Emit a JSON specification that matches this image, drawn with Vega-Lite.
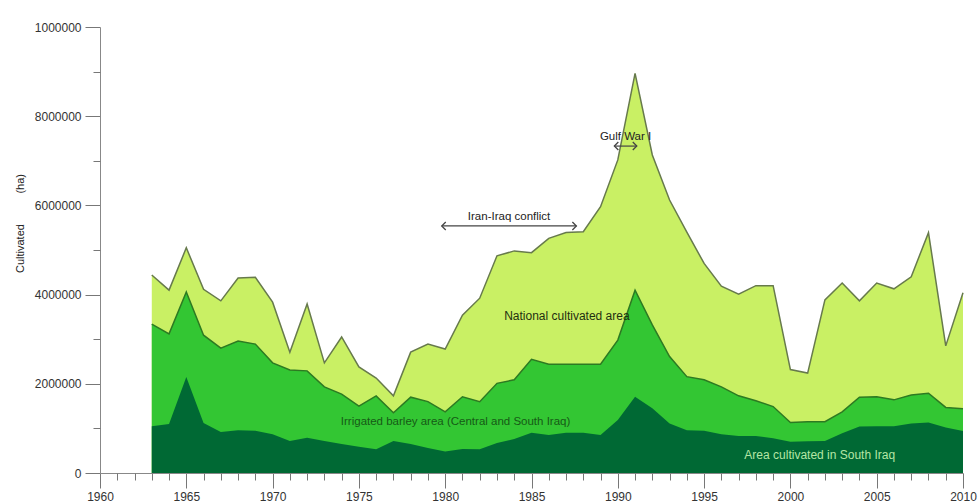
{
  "$schema": "https://vega.github.io/schema/vega-lite/v6.json",
  "autosize": "none",
  "width": 863,
  "height": 446,
  "padding": {"left": 100, "top": 27, "right": 15, "bottom": 31},
  "background": "white",
  "config": {
    "view": {"stroke": null},
    "font": "Liberation Sans",
    "axis": {"grid": false, "domainColor": "#888", "tickColor": "#777", "labelColor": "#333", "labelFont": "Liberation Sans", "labelFontSize": 12, "titleFont": "Liberation Sans"}
  },
  "resolve": {"axis": {"x": "independent", "y": "independent"}},
  "datasets": {
    "areas": [
      {"year": 1963, "national": 4440000, "barley": 3340000, "south": 1050000},
      {"year": 1964, "national": 4100000, "barley": 3120000, "south": 1100000},
      {"year": 1965, "national": 5050000, "barley": 4060000, "south": 2150000},
      {"year": 1966, "national": 4120000, "barley": 3090000, "south": 1120000},
      {"year": 1967, "national": 3860000, "barley": 2800000, "south": 920000},
      {"year": 1968, "national": 4370000, "barley": 2960000, "south": 960000},
      {"year": 1969, "national": 4390000, "barley": 2890000, "south": 950000},
      {"year": 1970, "national": 3830000, "barley": 2470000, "south": 870000},
      {"year": 1971, "national": 2710000, "barley": 2310000, "south": 720000},
      {"year": 1972, "national": 3790000, "barley": 2290000, "south": 790000},
      {"year": 1973, "national": 2470000, "barley": 1930000, "south": 720000},
      {"year": 1974, "national": 3050000, "barley": 1770000, "south": 650000},
      {"year": 1975, "national": 2380000, "barley": 1500000, "south": 590000},
      {"year": 1976, "national": 2130000, "barley": 1730000, "south": 530000},
      {"year": 1977, "national": 1730000, "barley": 1350000, "south": 720000},
      {"year": 1978, "national": 2710000, "barley": 1700000, "south": 650000},
      {"year": 1979, "national": 2890000, "barley": 1600000, "south": 560000},
      {"year": 1980, "national": 2780000, "barley": 1370000, "south": 480000},
      {"year": 1981, "national": 3540000, "barley": 1710000, "south": 540000},
      {"year": 1982, "national": 3920000, "barley": 1600000, "south": 530000},
      {"year": 1983, "national": 4870000, "barley": 2010000, "south": 670000},
      {"year": 1984, "national": 4980000, "barley": 2090000, "south": 760000},
      {"year": 1985, "national": 4940000, "barley": 2550000, "south": 900000},
      {"year": 1986, "national": 5260000, "barley": 2440000, "south": 850000},
      {"year": 1987, "national": 5390000, "barley": 2440000, "south": 900000},
      {"year": 1988, "national": 5410000, "barley": 2440000, "south": 900000},
      {"year": 1989, "national": 5970000, "barley": 2440000, "south": 850000},
      {"year": 1990, "national": 7020000, "barley": 2980000, "south": 1190000},
      {"year": 1991, "national": 8960000, "barley": 4100000, "south": 1710000},
      {"year": 1992, "national": 7130000, "barley": 3320000, "south": 1450000},
      {"year": 1993, "national": 6120000, "barley": 2610000, "south": 1110000},
      {"year": 1994, "national": 5400000, "barley": 2160000, "south": 960000},
      {"year": 1995, "national": 4700000, "barley": 2090000, "south": 950000},
      {"year": 1996, "national": 4190000, "barley": 1930000, "south": 870000},
      {"year": 1997, "national": 4010000, "barley": 1730000, "south": 830000},
      {"year": 1998, "national": 4200000, "barley": 1620000, "south": 830000},
      {"year": 1999, "national": 4200000, "barley": 1490000, "south": 780000},
      {"year": 2000, "national": 2320000, "barley": 1130000, "south": 700000},
      {"year": 2001, "national": 2240000, "barley": 1150000, "south": 710000},
      {"year": 2002, "national": 3880000, "barley": 1150000, "south": 720000},
      {"year": 2003, "national": 4260000, "barley": 1370000, "south": 890000},
      {"year": 2004, "national": 3860000, "barley": 1700000, "south": 1040000},
      {"year": 2005, "national": 4260000, "barley": 1710000, "south": 1050000},
      {"year": 2006, "national": 4130000, "barley": 1640000, "south": 1050000},
      {"year": 2007, "national": 4400000, "barley": 1750000, "south": 1110000},
      {"year": 2008, "national": 5390000, "barley": 1790000, "south": 1130000},
      {"year": 2009, "national": 2850000, "barley": 1470000, "south": 1020000},
      {"year": 2010, "national": 4040000, "barley": 1440000, "south": 940000}
    ],
    "events": [
      {"event": "Iran-Iraq conflict", "start": 1979.8, "end": 1987.6, "mid": 1983.7, "value": 5540000},
      {"event": "Gulf War I", "start": 1989.8, "end": 1991.1, "mid": 1990.45, "value": 7330000}
    ]
  },
  "layer": [
    {
      "data": {"name": "areas"},
      "mark": {"type": "area", "color": "#c9f064", "opacity": 1, "fillOpacity": 1, "line": {"color": "#677a4c", "strokeWidth": 1.5}},
      "encoding": {
        "x": {"field": "year", "type": "quantitative", "scale": {"domain": [1960, 2010], "nice": false, "zero": false},
          "axis": {"orient": "bottom", "values": [1960, 1965, 1970, 1975, 1980, 1985, 1990, 1995, 2000, 2005, 2010], "format": "d", "tickSize": 15, "labelPadding": 3, "title": null, "labelFlush": false}},
        "y": {"field": "national", "type": "quantitative", "scale": {"domain": [0, 10000000], "nice": false},
          "axis": {"orient": "left", "values": [0, 2000000, 4000000, 6000000, 8000000, 10000000], "labelExpr": "datum.value == 10000000 ? '1000000' : format(datum.value, 'd')", "tickSize": 15, "labelPadding": 4,
            "title": "Cultivated\u00a0\u00a0\u00a0\u00a0\u00a0\u00a0\u00a0\u00a0\u00a0\u00a0(ha)", "titleFontSize": 11, "titleFontWeight": "normal", "titleColor": "#222", "titleX": -86, "titleY": 196, "titleAngle": -90, "titleBaseline": "top"}}
      }
    },
    {
      "data": {"name": "areas"},
      "mark": {"type": "area", "color": "#33c633", "opacity": 1, "fillOpacity": 1, "line": {"color": "#2d7a22", "strokeWidth": 1.5}},
      "encoding": {
        "x": {"field": "year", "type": "quantitative", "axis": null},
        "y": {"field": "barley", "type": "quantitative", "axis": null}
      }
    },
    {
      "data": {"name": "areas"},
      "mark": {"type": "area", "color": "#006934", "opacity": 1, "fillOpacity": 1},
      "encoding": {
        "x": {"field": "year", "type": "quantitative", "axis": null},
        "y": {"field": "south", "type": "quantitative", "axis": null}
      }
    },
    {
      "data": {"values": [{"year": 1960, "value": 0}]},
      "mark": {"type": "point", "opacity": 0},
      "encoding": {
        "x": {"field": "year", "type": "quantitative", "axis": {"orient": "bottom", "values": [1961,1962,1963,1964,1966,1967,1968,1969,1971,1972,1973,1974,1976,1977,1978,1979,1981,1982,1983,1984,1986,1987,1988,1989,1991,1992,1993,1994,1996,1997,1998,1999,2001,2002,2003,2004,2006,2007,2008,2009], "tickSize": 7, "labels": false, "domain": false, "title": null}},
        "y": {"field": "value", "type": "quantitative", "axis": {"orient": "left", "values": [1000000, 3000000, 5000000, 7000000, 9000000], "tickSize": 7, "labels": false, "domain": false, "title": null}}
      }
    },
    {
      "data": {"values": [{"label": "National cultivated area", "year": 1987.05, "value": 3520000}]},
      "mark": {"type": "text", "font": "Liberation Sans", "fontSize": 12, "color": "#1f2f10"},
      "encoding": {"x": {"field": "year", "type": "quantitative", "axis": null}, "y": {"field": "value", "type": "quantitative", "axis": null}, "text": {"field": "label"}}
    },
    {
      "data": {"values": [{"label": "Irrigated barley area (Central and South Iraq)", "year": 1980.6, "value": 1140000}]},
      "mark": {"type": "text", "font": "Liberation Sans", "fontSize": 11.5, "color": "#165a16"},
      "encoding": {"x": {"field": "year", "type": "quantitative", "axis": null}, "y": {"field": "value", "type": "quantitative", "axis": null}, "text": {"field": "label"}}
    },
    {
      "data": {"values": [{"label": "Area cultivated in South Iraq", "year": 2001.7, "value": 400000}]},
      "mark": {"type": "text", "font": "Liberation Sans", "fontSize": 12, "color": "#b5e6a5"},
      "encoding": {"x": {"field": "year", "type": "quantitative", "axis": null}, "y": {"field": "value", "type": "quantitative", "axis": null}, "text": {"field": "label"}}
    },
    {
      "data": {"name": "events"},
      "mark": {"type": "rule", "color": "#444", "strokeWidth": 1.2},
      "encoding": {"x": {"field": "start", "type": "quantitative", "axis": null}, "x2": {"field": "end"}, "y": {"field": "value", "type": "quantitative", "axis": null}}
    },
    {
      "data": {"name": "events"},
      "mark": {"type": "point", "shape": "M1,-1L0,0L1,1", "size": 64, "filled": false, "stroke": "#444", "strokeWidth": 1.3, "opacity": 1},
      "encoding": {"x": {"field": "start", "type": "quantitative", "axis": null}, "y": {"field": "value", "type": "quantitative", "axis": null}}
    },
    {
      "data": {"name": "events"},
      "mark": {"type": "point", "shape": "M-1,-1L0,0L-1,1", "size": 64, "filled": false, "stroke": "#444", "strokeWidth": 1.3, "opacity": 1},
      "encoding": {"x": {"field": "end", "type": "quantitative", "axis": null}, "y": {"field": "value", "type": "quantitative", "axis": null}}
    },
    {
      "data": {"name": "events"},
      "mark": {"type": "text", "font": "Liberation Sans", "fontSize": 11.5, "color": "#222", "dy": -9},
      "encoding": {"x": {"field": "mid", "type": "quantitative", "axis": null}, "y": {"field": "value", "type": "quantitative", "axis": null}, "text": {"field": "event"}}
    }
  ]
}
